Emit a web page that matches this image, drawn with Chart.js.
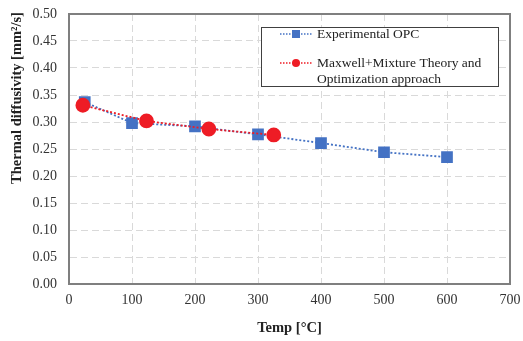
<!DOCTYPE html>
<html><head><meta charset="utf-8">
<script src="https://cdn.jsdelivr.net/npm/chart.js@4/dist/chart.umd.min.js"></script>
<style>html,body{margin:0;padding:0;background:#fff}#w{width:523px;height:341px}</style>
</head><body><div id="w"><canvas id="c"></canvas></div>
<script>
const expTemps = [25, 100, 200, 300, 400, 500, 600];
const expValues = [0.337, 0.298, 0.292, 0.277, 0.261, 0.244, 0.235];
const modelTemps = [22, 123, 222, 325];
const modelValues = [0.331, 0.302, 0.287, 0.276];
const seriesNames = ["Experimental OPC", ["Maxwell+Mixture Theory and", "Optimization approach"]];
const xTitle = "Temp [°C]";
const yTitle = "Thermal diffusivity [mm²/s]";

const FONT = "'Liberation Serif', 'Times New Roman', serif";
const BLUE = "#4472C4", RED = "#EE1C25";

const legendPlugin = {
  id: 'boxLegend',
  afterDraw(chart) {
    const ctx = chart.ctx;
    const x0 = 261, y0 = 27, w = 237, h = 59;
    ctx.save();
    ctx.fillStyle = '#fff'; ctx.fillRect(x0, y0, w, h);
    ctx.strokeStyle = '#404040'; ctx.lineWidth = 1; ctx.strokeRect(x0 + 0.5, y0 + 0.5, w, h);
    const items = [
      {c: BLUE, shape: 'sq', y: y0 + 7, lines: [seriesNames[0]]},
      {c: RED, shape: 'ci', y: y0 + 36, lines: seriesNames[1]}
    ];
    ctx.font = "13.5px " + FONT; ctx.textBaseline = 'middle'; ctx.fillStyle = '#222';
    items.forEach(it => {
      ctx.strokeStyle = it.c; ctx.lineWidth = 1.5; ctx.setLineDash([1.5, 1.5]);
      ctx.beginPath(); ctx.moveTo(x0 + 19, it.y); ctx.lineTo(x0 + 51, it.y); ctx.stroke();
      ctx.setLineDash([]);
      ctx.fillStyle = it.c;
      if (it.shape === 'sq') ctx.fillRect(x0 + 35 - 4, it.y - 4, 8, 8);
      else { ctx.beginPath(); ctx.arc(x0 + 35, it.y, 4, 0, Math.PI * 2); ctx.fill(); }
      ctx.fillStyle = '#222';
      it.lines.forEach((t, i) => ctx.fillText(t, x0 + 56, it.y + i * 16));
    });
    ctx.restore();
  }
};
const framePlugin = {
  id: 'frame',
  afterDatasetsDraw(chart) {
    const ctx = chart.ctx, a = chart.chartArea;
    ctx.save(); ctx.strokeStyle = '#7f7f7f'; ctx.lineWidth = 2;
    ctx.strokeRect(a.left, a.top, a.right - a.left, a.bottom - a.top);
    ctx.restore();
  }
};
const yTitlePlugin = {
  id: 'yTitle',
  afterDraw(chart) {
    const ctx = chart.ctx;
    ctx.save();
    ctx.translate(17, 98);
    ctx.rotate(-Math.PI / 2);
    ctx.font = "bold 14.5px " + FONT;
    ctx.fillStyle = '#222'; ctx.textAlign = 'center'; ctx.textBaseline = 'middle';
    ctx.fillText(yTitle, 0, 0);
    ctx.restore();
  }
};

new Chart(document.getElementById('c'), {
  type: 'scatter',
  data: {
    datasets: [
      {
        label: 'Experimental OPC',
        data: expTemps.map((t, i) => ({x: t, y: expValues[i]})),
        showLine: true, borderColor: BLUE, borderWidth: 1.8, borderDash: [2, 2],
        pointStyle: 'rect', pointRadius: 7, pointBackgroundColor: BLUE, pointBorderColor: BLUE,
        order: 2
      },
      {
        label: 'Maxwell+Mixture Theory and Optimization approach',
        data: modelTemps.map((t, i) => ({x: t, y: modelValues[i]})),
        showLine: true, borderColor: RED, borderWidth: 1.8, borderDash: [2, 2],
        pointStyle: 'circle', pointRadius: 6.5, pointBackgroundColor: RED, pointBorderColor: RED,
        order: 1
      }
    ]
  },
  options: {
    responsive: true, maintainAspectRatio: false, animation: false,
    layout: {padding: {left: 0, right: 13, top: 14, bottom: 0}},
    plugins: {legend: {display: false}, tooltip: {enabled: false}},
    scales: {
      x: {
        type: 'linear', min: 0, max: 700,
        ticks: {stepSize: 100, color: '#333', font: {family: FONT, size: 14}, padding: 8},
        grid: {color: '#d9d9d9', drawTicks: false},
        border: {display: true, color: '#7f7f7f', width: 1, dash: [7, 4]},
        title: {display: true, text: xTitle, color: '#222', font: {family: FONT, size: 14.5, weight: 'bold'}, padding: {top: 12}},
        afterFit(s) { s.height = 57; s.paddingLeft = 0; s.paddingRight = 0; }
      },
      y: {
        min: 0, max: 0.5,
        ticks: {stepSize: 0.05, color: '#333', font: {family: FONT, size: 14}, padding: 12,
          callback: v => v.toFixed(2)},
        grid: {color: '#d9d9d9', drawTicks: false},
        border: {display: true, color: '#7f7f7f', width: 1, dash: [7, 4]},
        title: {display: false},
        afterFit(s) { s.width = 69; s.paddingTop = 0; s.paddingBottom = 0; }
      }
    }
  },
  plugins: [framePlugin, legendPlugin, yTitlePlugin]
});
</script>
</body></html>
